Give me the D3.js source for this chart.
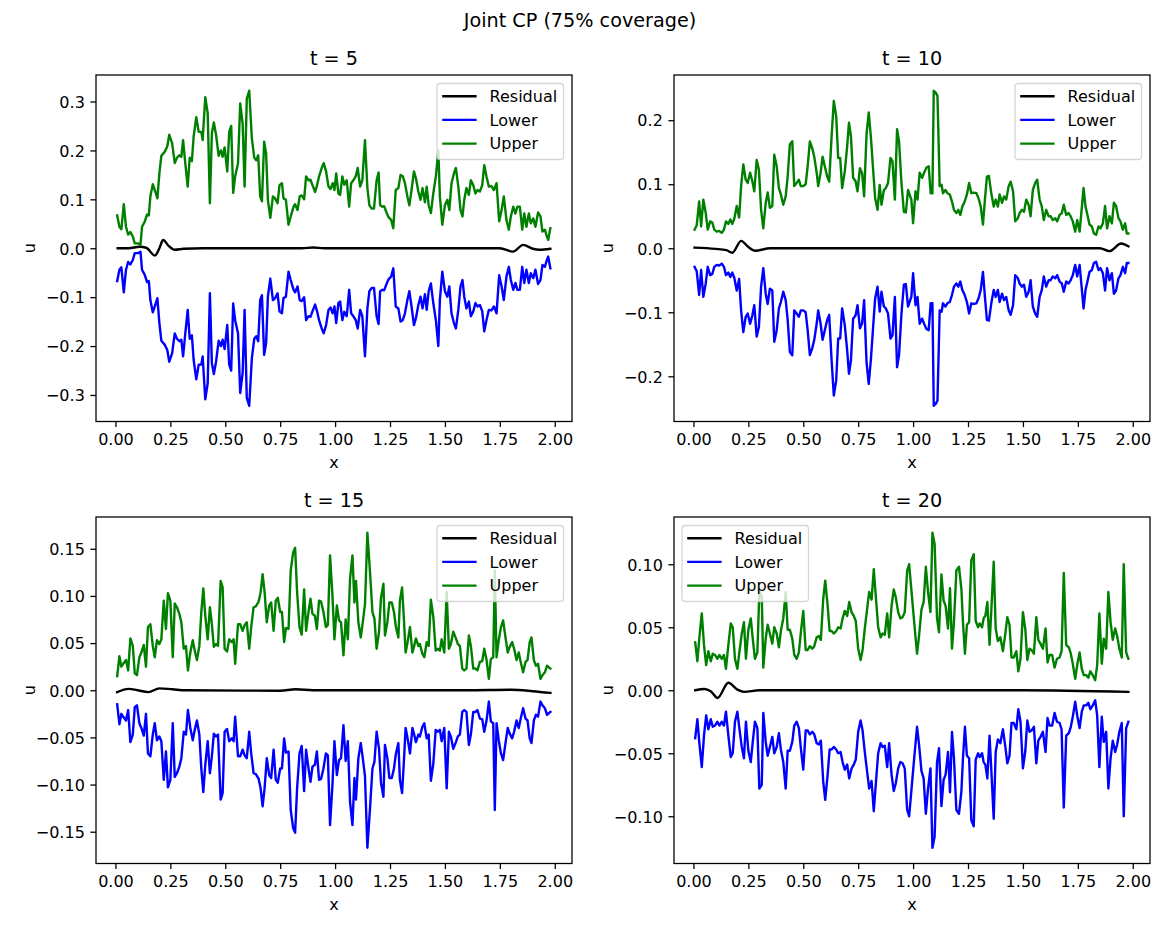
<!DOCTYPE html>
<html>
<head>
<meta charset="utf-8">
<script src="https://cdn.jsdelivr.net/npm/d3@7"></script>
<style>
  body { margin: 0; background: #fff; }
</style>
</head>
<body>
<svg id="fig" width="1163" height="925"></svg>
<script>
// ---- data ----
var seriesNames = ["Residual", "Lower", "Upper"];
var xFirst = 0.01, xLast = 1.98;
var xTicks = [0, 0.25, 0.5, 0.75, 1.0, 1.25, 1.5, 1.75, 2.0];

// t = 5 : band half-width (upper = +band, lower = -band)
var t5X = [.008,.018,.027,.038,.048,.058,.068,.079,.088,.103,.114,.121,.133,.144,.152,.159,.170,.182,.191,.200,.209,.224,.236,.245,.258,.270,.280,.291,.300,.308,.318,.329,.338,.348,.356,.368,.379,.391,.397,.409,.420,.430,.439,.448,.458,.470,.480,.488,.497,.509,.518,.527,.536,.545,.558,.568,.579,.588,.598,.609,.621,.632,.641,.650,.659,.667,.677,.686,.694,.705,.717,.727,.738,.747,.758,.765,.776,.788,.798,.811,.818,.829,.839,.848,.859,.868,.879,.888,.897,.909,.918,.927,.939,.948,.959,.970,.979,
  .989,.997,1.005,1.015,1.023,1.033,1.042,1.053,1.064,1.073,1.083,1.094,1.103,1.114,1.124,1.136,1.147,1.156,1.167,1.177,1.189,1.198,1.205,1.215,1.223,1.235,1.244,1.255,1.265,1.276,1.288,1.298,1.308,1.318,1.329,1.338,1.348,1.359,1.368,1.379,1.389,1.398,1.409,1.417,1.426,1.436,1.447,1.459,1.470,1.477,1.488,1.500,1.511,1.520,1.530,1.541,1.550,1.561,1.571,1.580,1.588,1.598,1.609,1.618,1.629,1.639,1.648,1.659,1.670,1.679,1.689,1.700,1.712,1.723,1.735,1.747,1.758,1.768,1.780,1.791,1.800,1.811,1.821,1.830,1.841,1.852,1.861,1.871,1.882,1.891,1.902,1.912,1.924,1.935,1.944,1.955,1.962,1.970,1.980];
var t5Band = [.067,.044,.039,.090,.044,.028,.033,.024,.010,.010,.007,.044,.054,.069,.067,.106,.131,.115,.102,.153,.189,.197,.208,.232,.215,.174,.185,.190,.187,.221,.174,.126,.185,.178,.228,.268,.238,.238,.221,.309,.276,.092,.235,.257,.232,.189,.200,.187,.206,.157,.238,.250,.113,.147,.174,.296,.255,.126,.306,.322,.225,.185,.180,.190,.106,.096,.218,.194,.099,.062,.106,.102,.092,.129,.133,.102,.099,.048,.065,.085,.090,.078,.106,.108,.100,.147,.139,.140,.129,.115,.129,.147,.164,.174,.157,.126,.121,
  .133,.119,.153,.112,.109,.147,.130,.139,.085,.133,.139,.147,.164,.126,.139,.221,.123,.088,.081,.081,.139,.155,.088,.085,.086,.072,.063,.058,.041,.119,.123,.150,.147,.133,.106,.088,.119,.157,.143,.116,.099,.123,.094,.126,.088,.072,.112,.148,.200,.106,.048,.088,.099,.078,.133,.153,.164,.126,.078,.065,.099,.123,.109,.139,.129,.112,.119,.116,.129,.170,.147,.126,.127,.119,.133,.055,.078,.106,.058,.038,.065,.085,.071,.085,.085,.038,.071,.044,.071,.051,.061,.044,.073,.065,.034,.038,.027,.017,.041];
var t5ResX = [0.01,0.06,0.11,0.14,0.18,0.20,0.217,0.24,0.27,0.31,0.40,0.85,0.90,0.95,1.00,1.75,1.81,1.856,1.90,1.93,1.98];
var t5Res = [0,0,0.003,0.001,-0.015,0.000,0.017,0.006,-0.003,-0.001,0,0,0.0015,0,0,0,-0.007,0.007,-0.001,-0.003,-0.001];
var t5YTicks = [-0.3,-0.2,-0.1,0,0.1,0.2,0.3];

// t = 10
var t10X = [.005,.015,.026,.035,.045,.056,.065,.076,.086,.095,.106,.117,.129,.139,.148,.159,.168,.177,.186,.197,.208,.217,.227,.238,.247,.258,.268,.277,.288,.298,.308,.318,.329,.338,.348,.359,.368,.379,.389,.398,.409,.420,.429,.439,.450,.459,.470,.480,.489,.500,.511,.520,.530,.541,.550,.561,.568,.579,.588,.598,.609,.618,.629,.639,.650,.659,.668,.677,.689,.700,.708,.717,.727,.738,.747,.758,.768,.777,.788,.798,.808,.818,.827,.838,.848,.856,.867,.876,.886,.897,.906,.917,.927,.936,.947,.958,.967,.977,
  .992,1.000,1.011,1.020,1.030,1.041,1.050,1.061,1.071,1.080,1.088,1.094,1.103,1.111,1.121,1.130,1.136,1.147,1.156,1.167,1.177,1.186,1.197,1.206,1.215,1.224,1.235,1.245,1.255,1.265,1.276,1.288,1.298,1.308,1.318,1.327,1.336,1.345,1.356,1.367,1.376,1.386,1.394,1.405,1.414,1.424,1.435,1.444,1.455,1.465,1.477,1.485,1.495,1.505,1.515,1.526,1.535,1.545,1.556,1.565,1.576,1.586,1.595,1.606,1.617,1.626,1.636,1.647,1.656,1.667,1.677,1.686,1.697,1.708,1.717,1.727,1.738,1.747,1.758,1.768,1.776,1.785,1.795,1.803,1.814,1.823,1.833,1.844,1.853,1.864,1.874,1.883,1.894,1.905,1.914,1.924,1.935,1.944,1.955,1.965,1.973,1.980];
var t10Band = [.029,.036,.073,.034,.076,.055,.029,.042,.040,.029,.026,.027,.024,.029,.042,.038,.045,.038,.046,.066,.048,.097,.131,.107,.102,.118,.105,.089,.138,.123,.060,.031,.071,.087,.063,.066,.146,.128,.094,.084,.068,.081,.112,.162,.167,.097,.102,.107,.097,.097,.100,.128,.167,.156,.143,.118,.097,.118,.143,.128,.112,.104,.175,.230,.206,.141,.141,.094,.120,.160,.196,.175,.110,.105,.089,.125,.117,.081,.178,.212,.173,.123,.079,.060,.099,.068,.091,.094,.102,.141,.136,.076,.186,.167,.102,.057,.056,.091,
  .076,.039,.089,.076,.118,.110,.118,.126,.128,.086,.086,.246,.243,.238,.097,.099,.086,.091,.086,.084,.073,.060,.055,.060,.052,.065,.073,.084,.102,.086,.087,.086,.078,.065,.037,.076,.112,.113,.086,.065,.076,.065,.084,.071,.081,.076,.097,.104,.089,.042,.047,.055,.060,.057,.076,.068,.050,.091,.102,.107,.076,.065,.044,.060,.050,.050,.044,.047,.042,.052,.055,.068,.052,.055,.050,.042,.026,.044,.026,.063,.094,.065,.050,.037,.034,.023,.021,.034,.031,.039,.066,.031,.050,.039,.071,.066,.047,.042,.029,.039,.023,.023];
var t10ResX = [0.005,0.10,0.15,0.177,0.217,0.25,0.28,0.35,1.00,1.85,1.894,1.947,1.98];
var t10Res = [0.001,-0.001,-0.003,-0.007,0.0115,0.002,-0.004,0,0,0,-0.0045,0.0075,0.003];
var t10YTicks = [-0.2,-0.1,0,0.1,0.2];

// t = 15
var t15X = [.008,.018,.027,.038,.048,.058,.068,.079,.088,.098,.109,.118,.129,.139,.148,.159,.170,.179,.189,.200,.209,.220,.230,.239,.250,.261,.270,.280,.291,.300,.311,.321,.330,.341,.352,.361,.371,.382,.391,.400,.409,.420,.430,.439,.448,.458,.467,.479,.488,.497,.508,.518,.530,.538,.545,.558,.568,.579,.588,.598,.609,.618,.629,.639,.652,.661,.670,.679,.689,.700,.709,.720,.730,.739,.750,.758,.768,.776,.788,.798,.809,.818,.827,.838,.848,.859,.868,.879,.888,.897,.908,.917,.927,.936,.947,.958,.967,.977,.988,
  .997,1.008,1.018,1.027,1.038,1.048,1.058,1.068,1.079,1.088,1.095,1.106,1.117,1.126,1.136,1.147,1.159,1.170,1.179,1.189,1.200,1.209,1.220,1.227,1.238,1.247,1.258,1.268,1.277,1.288,1.295,1.305,1.314,1.321,1.330,1.341,1.352,1.359,1.368,1.379,1.386,1.397,1.406,1.417,1.426,1.436,1.447,1.458,1.468,1.477,1.485,1.497,1.508,1.518,1.527,1.538,1.550,1.559,1.568,1.579,1.588,1.598,1.609,1.618,1.629,1.639,1.648,1.659,1.670,1.679,1.689,1.700,1.709,1.720,1.727,1.735,1.745,1.755,1.765,1.777,1.786,1.795,1.806,1.815,1.826,1.836,1.845,1.856,1.867,1.876,1.886,1.894,1.905,1.914,1.924,1.935,1.944,1.955,1.965,1.980];
var t15Band = [.015,.036,.025,.029,.032,.021,.055,.047,.018,.016,.035,.040,.048,.025,.067,.070,.047,.035,.053,.049,.054,.095,.065,.103,.095,.035,.092,.088,.081,.072,.044,.047,.021,.040,.053,.042,.032,.047,.083,.108,.079,.054,.088,.070,.046,.049,.047,.116,.109,.044,.041,.054,.051,.054,.028,.070,.070,.063,.069,.072,.044,.067,.088,.089,.094,.104,.123,.104,.072,.090,.093,.063,.095,.098,.083,.083,.051,.066,.065,.127,.146,.151,.104,.067,.059,.107,.063,.083,.097,.081,.079,.065,.095,.094,.083,.067,.069,.143,.100,
  .054,.090,.074,.072,.037,.075,.054,.118,.143,.093,.116,.072,.056,.072,.091,.167,.125,.083,.076,.044,.062,.098,.113,.058,.072,.093,.093,.083,.067,.056,.095,.109,.072,.040,.051,.067,.040,.046,.055,.047,.049,.039,.035,.051,.047,.096,.078,.042,.044,.042,.054,.040,.104,.044,.049,.062,.055,.049,.047,.023,.021,.023,.058,.047,.023,.023,.021,.030,.031,.044,.033,.012,.033,.035,.127,.035,.053,.067,.074,.054,.040,.046,.051,.044,.032,.040,.030,.019,.030,.032,.051,.056,.032,.026,.028,.012,.016,.019,.026,.023];
var t15ResX = [0.008,0.06,0.10,0.15,0.20,0.26,0.32,0.75,0.82,0.90,1.60,1.80,1.90,1.98];
var t15Res = [-0.002,0.0015,0,-0.002,0.002,0.001,0,-0.0005,0.001,0,0,0.0005,-0.001,-0.0028];
var t15YTicks = [-0.15,-0.10,-0.05,0,0.05,0.10,0.15];

// t = 20
var t20X = [.008,.018,.027,.038,.048,.058,.068,.079,.088,.098,.109,.118,.129,.139,.148,.159,.170,.179,.189,.200,.209,.220,.230,.239,.250,.261,.270,.280,.291,.300,.311,.318,.329,.338,.348,.359,.368,.379,.389,.398,.409,.420,.429,.439,.450,.459,.470,.480,.489,.500,.511,.520,.530,.541,.550,.561,.571,.580,.591,.600,.611,.620,.629,.639,.650,.659,.670,.679,.689,.700,.709,.720,.730,.739,.750,.761,.770,.780,.791,.800,.811,.821,.830,.841,.852,.861,.871,.882,.891,.902,.912,.921,.932,.942,.952,.962,.973,.982,
  .997,1.008,1.018,1.027,1.038,1.048,1.058,1.068,1.079,1.088,1.098,1.109,1.118,1.129,1.139,1.148,1.159,1.168,1.177,1.186,1.197,1.209,1.220,1.227,1.236,1.245,1.255,1.265,1.276,1.285,1.296,1.303,1.314,1.321,1.329,1.338,1.348,1.358,1.367,1.376,1.386,1.397,1.409,1.420,1.429,1.439,1.448,1.458,1.470,1.479,1.489,1.500,1.511,1.520,1.530,1.539,1.550,1.561,1.570,1.580,1.591,1.603,1.612,1.621,1.633,1.644,1.655,1.667,1.676,1.686,1.697,1.709,1.718,1.727,1.738,1.748,1.758,1.768,1.777,1.788,1.798,1.807,1.818,1.829,1.838,1.848,1.859,1.868,1.879,1.889,1.899,1.909,1.920,1.929,1.939,1.950,1.959,1.970,1.980];
var t20Band = [.038,.023,.042,.061,.036,.020,.031,.023,.029,.028,.025,.028,.025,.028,.017,.036,.053,.050,.025,.017,.030,.045,.054,.025,.048,.057,.041,.025,.030,.078,.075,.018,.041,.052,.045,.037,.050,.045,.034,.047,.057,.078,.048,.048,.041,.028,.025,.030,.046,.063,.032,.032,.035,.033,.035,.042,.043,.040,.073,.087,.067,.047,.047,.045,.047,.050,.049,.057,.063,.059,.070,.062,.059,.055,.033,.024,.032,.049,.065,.078,.072,.096,.075,.050,.042,.045,.044,.061,.042,.067,.080,.074,.062,.057,.058,.062,.095,.100,
  .070,.048,.029,.043,.064,.070,.098,.078,.062,.125,.116,.057,.046,.092,.071,.067,.049,.081,.033,.054,.095,.098,.080,.054,.029,.052,.054,.103,.108,.055,.050,.053,.050,.057,.059,.070,.036,.070,.102,.049,.039,.042,.031,.045,.058,.052,.026,.026,.031,.015,.025,.062,.048,.024,.033,.032,.029,.058,.040,.037,.033,.049,.022,.028,.028,.018,.025,.026,.031,.093,.036,.034,.029,.021,.009,.021,.030,.017,.012,.012,.010,.015,.012,.008,.020,.061,.021,.041,.033,.078,.054,.040,.049,.043,.033,.026,.100,.030,.025];
var t20ResX = [0.008,0.05,0.08,0.11,0.159,0.20,0.23,0.30,1.00,1.50,1.98];
var t20Res = [0,0.001,-0.001,-0.0061,0.006,0.0005,-0.0013,0,0,0,-0.0013];
var t20YTicks = [-0.10,-0.05,0,0.05,0.10];

// ---- drawing ----
var FONT = "DejaVu Sans, sans-serif";
var colors = { Residual: "#000000", Lower: "#0000ff", Upper: "#008000" };
var pw = 476, ph = 346.5;
var svg = d3.select("#fig");
svg.append("rect").attr("width", 1163).attr("height", 925).attr("fill", "#fff");

svg.append("text").attr("x", 580).attr("y", 27).attr("text-anchor", "middle")
  .attr("font-family", FONT).attr("font-size", 19.2).text("Joint CP (75% coverage)");

var panels = [
  { title: "t = 5",  xs: t5X,  band: t5Band,  rx: t5ResX,  rv: t5Res,  yt: t5YTicks,  fmt: ".1f", legend: "right", left: 96,  top: 75 },
  { title: "t = 10", xs: t10X, band: t10Band, rx: t10ResX, rv: t10Res, yt: t10YTicks, fmt: ".1f", legend: "right", left: 674, top: 75 },
  { title: "t = 15", xs: t15X, band: t15Band, rx: t15ResX, rv: t15Res, yt: t15YTicks, fmt: ".2f", legend: "right", left: 96,  top: 517 },
  { title: "t = 20", xs: t20X, band: t20Band, rx: t20ResX, rv: t20Res, yt: t20YTicks, fmt: ".2f", legend: "left",  left: 674, top: 517 }
];

panels.forEach(function (p) {
  var g = svg.append("g").attr("transform", "translate(" + p.left + "," + p.top + ")");

  var upper = p.xs.map(function (v, i) { return [v, p.band[i]]; });
  var lower = p.xs.map(function (v, i) { return [v, -p.band[i]]; });
  var resid = p.rx.map(function (v, i) { return [v, p.rv[i]]; });

  // matplotlib-like 5% margins
  var span = xLast - xFirst;
  var x = d3.scaleLinear().domain([xFirst - 0.05 * span, xLast + 0.05 * span]).range([0, pw]);
  var vals = upper.concat(lower, resid).map(function (d) { return d[1]; });
  var ext = d3.extent(vals), pad = 0.05 * (ext[1] - ext[0]);
  var y = d3.scaleLinear().domain([ext[0] - pad, ext[1] + pad]).range([ph, 0]);

  var line = d3.line().x(function (d) { return x(d[0]); }).y(function (d) { return y(d[1]); });
  var smooth = d3.line().curve(d3.curveMonotoneX).x(function (d) { return x(d[0]); }).y(function (d) { return y(d[1]); });

  var plotted = { Residual: smooth(resid), Lower: line(lower), Upper: line(upper) };
  seriesNames.forEach(function (n) {
    g.append("path").attr("d", plotted[n]).attr("fill", "none")
      .attr("stroke", colors[n]).attr("stroke-width", 2.4)
      .attr("stroke-linejoin", "round").attr("stroke-linecap", "square");
  });

  // axes
  var xa = g.append("g").attr("transform", "translate(0," + ph + ")")
    .call(d3.axisBottom(x).tickValues(xTicks).tickFormat(d3.format(".2f")).tickSize(5.6).tickPadding(5.6));
  var ya = g.append("g")
    .call(d3.axisLeft(y).tickValues(p.yt).tickFormat(d3.format(p.fmt)).tickSize(5.6).tickPadding(5.6));
  [xa, ya].forEach(function (a) {
    a.attr("font-family", FONT).attr("font-size", 16);
    a.select(".domain").remove();
    a.selectAll(".tick line").attr("stroke", "#000").attr("stroke-width", 1.28);
    a.selectAll(".tick text").attr("fill", "#000");
  });
  ya.selectAll(".tick text").attr("dy", "0.36em");
  xa.selectAll(".tick text").attr("dy", "0.76em");

  g.append("rect").attr("width", pw).attr("height", ph).attr("fill", "none")
    .attr("stroke", "#000").attr("stroke-width", 1.28);

  g.append("text").attr("x", pw / 2).attr("y", -9.6).attr("text-anchor", "middle")
    .attr("font-family", FONT).attr("font-size", 19.2).text(p.title);
  g.append("text").attr("x", pw / 2).attr("y", ph + 46).attr("text-anchor", "middle")
    .attr("font-family", FONT).attr("font-size", 16).text("x");
  g.append("text").attr("transform", "translate(-61," + (ph / 2) + ") rotate(-90)")
    .attr("text-anchor", "middle").attr("font-family", FONT).attr("font-size", 16).text("u");

  // legend
  var lw = 126.5, lh = 76;
  var lx = p.legend === "right" ? pw - 8.5 - lw : 8;
  var lg = g.append("g").attr("transform", "translate(" + lx + ",8.5)");
  lg.append("rect").attr("width", lw).attr("height", lh).attr("rx", 3.2)
    .attr("fill", "#fff").attr("fill-opacity", 0.8)
    .attr("stroke", "#cccccc").attr("stroke-opacity", 0.8).attr("stroke-width", 1.3);
  seriesNames.forEach(function (n, i) {
    var cy = 12.7 + i * 23.7;
    lg.append("line").attr("x1", 6.4).attr("x2", 38.4).attr("y1", cy).attr("y2", cy)
      .attr("stroke", colors[n]).attr("stroke-width", 2.4).attr("stroke-linecap", "square");
    lg.append("text").attr("x", 52.6).attr("y", cy).attr("dy", "0.36em")
      .attr("font-family", FONT).attr("font-size", 16).text(n);
  });
});
</script>
</body>
</html>
